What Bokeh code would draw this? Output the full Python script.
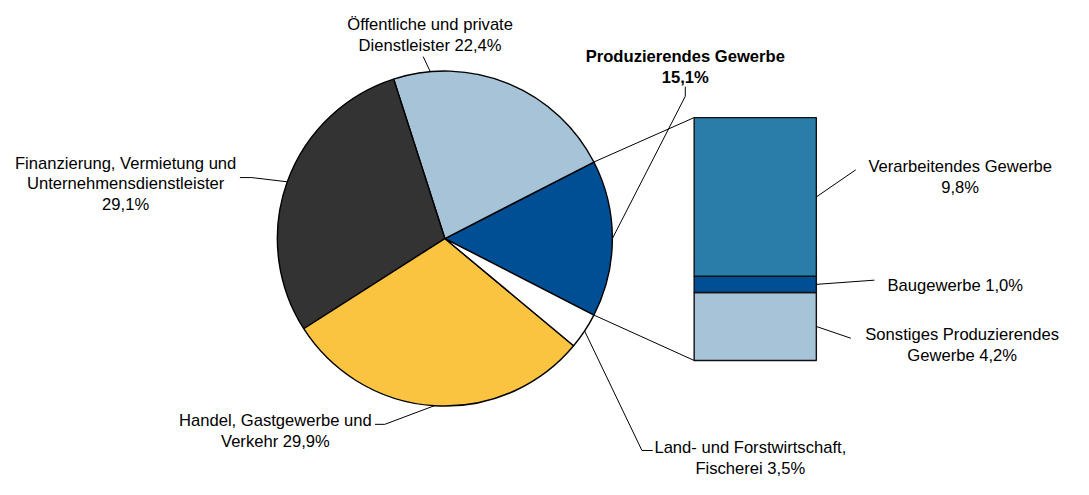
import math
from bokeh.plotting import figure
from bokeh.models import Range1d
from bokeh.core.properties import value
from bokeh.embed import file_html
from bokeh.resources import INLINE

# ---------------- data ----------------
pie_sectors = ["Produzierendes Gewerbe", "Öffentliche und private Dienstleister",
               "Finanzierung, Vermietung und Unternehmensdienstleister",
               "Handel, Gastgewerbe und Verkehr", "Land- und Forstwirtschaft, Fischerei"]
pie_shares = [15.1, 22.4, 29.1, 29.9, 3.5]
pie_labels = ["Produzierendes Gewerbe\n15,1%",
              "Öffentliche und private\nDienstleister 22,4%",
              "Finanzierung, Vermietung und\nUnternehmensdienstleister\n29,1%",
              "Handel, Gastgewerbe und\nVerkehr 29,9%",
              "Land- und Forstwirtschaft,\nFischerei 3,5%"]

bar_sectors = ["Sonstiges Produzierendes Gewerbe", "Baugewerbe", "Verarbeitendes Gewerbe"]
bar_shares = [4.2, 1.0, 9.8]
bar_labels = ["Sonstiges Produzierendes\nGewerbe 4,2%", "Baugewerbe 1,0%",
              "Verarbeitendes Gewerbe\n9,8%"]

# ---------------- styles / layout ----------------
pie_colors = ["#004F95", "#A6C3D8", "#333333", "#FAC340", "#FFFFFF"]
bar_colors = ["#A6C3D8", "#004F95", "#2A7DA8"]
FONT = "Liberation Sans"
FS = "16.6px"
LH = 21.5

W, H = 1073, 479          # figure size in screen pixels
RW, RH = 1089, 495        # layout coordinate space
def X(px): return px
def Y(py): return RH - py

p = figure(width=W, height=H, x_range=Range1d(0, RW), y_range=Range1d(0, RH),
           output_backend="svg", toolbar_location=None, min_border=0,
           x_axis_type=None, y_axis_type=None)
p.grid.visible = False
p.outline_line_color = None
p.background_fill_color = "white"
p.border_fill_color = "white"

# ---------------- pie ----------------
cx, cy, R = X(451), Y(246), 170
start0 = -pie_shares[0] / 100 * math.pi
starts, ends = [], []
a = start0
for s in pie_shares:
    starts.append(a)
    a += s / 100 * 2 * math.pi
    ends.append(a)
mids = [(s + e) / 2 for s, e in zip(starts, ends)]

p.wedge(x=cx, y=cy, radius=R, start_angle=starts, end_angle=ends,
        fill_color=pie_colors, line_color="black", line_width=1.4)

# screen y-scale relative to x-scale, so points on the (circular) pie edge are right
sx = W / RW
sy = H / RH
def on_pie(angle_rad):
    return (cx + R * math.cos(angle_rad), cy + R * math.sin(angle_rad) * sx / sy)

# ---------------- stacked bar ----------------
bar_bottom_py, bar_top_py = 372, 121
total = sum(bar_shares)
k = (bar_bottom_py - bar_top_py) / total
y0 = Y(bar_bottom_py)
p.extra_y_ranges = {"bar": Range1d(-y0 / k, (RH - y0) / k)}
bottoms, tops = [], []
c = 0
for s in bar_shares:
    bottoms.append(c)
    c += s
    tops.append(c)
bar_cx, bar_w = X(766), 124
p.vbar(x=bar_cx, width=bar_w, bottom=bottoms, top=tops, fill_color=bar_colors,
       line_color="#111111", line_width=1.4, y_range_name="bar")

def bar_y(v):
    return y0 + v * k

# connector lines pie -> bar
top_pt = on_pie(ends[0])
bot_pt = on_pie(starts[0])
p.segment(x0=[top_pt[0], bot_pt[0]], y0=[top_pt[1], bot_pt[1]],
          x1=[bar_cx - bar_w / 2, bar_cx - bar_w / 2], y1=[bar_y(total), bar_y(0)],
          line_color="black", line_width=1)

# ---------------- leader lines ----------------
pie_anchor_angles = [mids[0], math.radians(95), mids[2], mids[3], mids[4]]
pie_leader_pts = [
    [(695, 99), (695, 89)],
    [(429, 58)],
    [(255, 183), (243, 183)],
    [(390, 438), (380, 438)],
    [(651, 465), (662, 465)],
]
for ang, pts in zip(pie_anchor_angles, pie_leader_pts):
    ax, ay = on_pie(ang)
    xs = [ax] + [X(q[0]) for q in pts]
    ys = [ay] + [Y(q[1]) for q in pts]
    p.line(xs, ys, line_color="black", line_width=1)

bar_leader_ends = [(863, 349), (887, 289), (868, 175)]
for b, t, e in zip(bottoms, tops, bar_leader_ends):
    p.line([bar_cx + bar_w / 2, X(e[0])], [bar_y((b + t) / 2), Y(e[1])],
           line_color="black", line_width=1)

# ---------------- labels ----------------
pie_label_pos = [(695, 58), (436, 25), (127, 168), (279, 434), (761, 462)]
pie_label_bold = [True, False, False, False, False]
bar_label_pos = [(976, 345), (969, 295), (974, 172)]

def draw_label(txt, pos, bold=False):
    lines = txt.split("\n")
    xs = [X(pos[0])] * len(lines)
    ys = [Y(pos[1] + i * LH) for i in range(len(lines))]
    p.text(x=xs, y=ys, text=lines, text_align="center", text_baseline="alphabetic",
           text_font=value(FONT), text_font_size=FS, text_color="black",
           text_font_style="bold" if bold else "normal")

for t, pos, b in zip(pie_labels, pie_label_pos, pie_label_bold):
    draw_label(t, pos, b)
for t, pos in zip(bar_labels, bar_label_pos):
    draw_label(t, pos)

open("out.html", "w").write(file_html(p, INLINE))
